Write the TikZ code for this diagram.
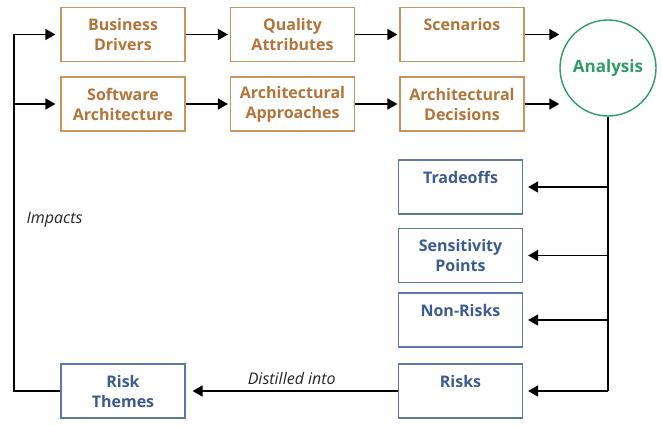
\documentclass[tikz,border=0pt]{standalone}
\usepackage{fontspec}
\setmainfont{Open Sans}
\usetikzlibrary{arrows.meta}
\definecolor{brtext}{HTML}{B3743A}
\definecolor{brline}{HTML}{C8935E}
\definecolor{bltext}{HTML}{3C5B8E}
\definecolor{blline}{HTML}{5B79A8}
\definecolor{grn}{HTML}{2F9B66}
\begin{document}
\begin{tikzpicture}[x=1pt,y=-1pt,
  box/.style={draw, line width=1.2pt, minimum width=124pt, minimum height=54pt,
    inner sep=0pt, align=center, font=\fontsize{16}{20}\selectfont\bfseries},
  brbox/.style={box, draw=brline, text=brtext},
  blbox/.style={box, draw=blline, text=bltext},
  arr/.style={line width=1.6pt, -{Triangle[length=10pt,width=11pt]}},
  lbl/.style={font=\fontsize{16}{18}\selectfont\itshape, text=black!85}
]
\useasboundingbox (0,0) rectangle (662,426);
% top row
\node[brbox] (bd) at (123,34.5) {Business\\Drivers};
\node[brbox] (qa) at (292.5,34.5) {Quality\\Attributes};
\node[brbox] (sc) at (462,34.5) {Scenarios\\\mbox{}};
% second row
\node[brbox] (sa) at (123,104) {Software\\Architecture};
\node[brbox] (aa) at (292.5,104) {Architectural\\Approaches};
\node[brbox] (ad) at (462,104) {Architectural\\Decisions};
% analysis
\node[draw=grn, text=grn, circle, line width=1.4pt, minimum size=96pt, inner sep=0pt,
  font=\fontsize{17}{20}\selectfont\bfseries] (an) at (608,68) {Analysis};
% outputs
\node[blbox] (to) at (460.5,187) {Tradeoffs\\\mbox{}};
\node[blbox] (sp) at (460.5,255.5) {Sensitivity\\Points};
\node[blbox] (nr) at (460.5,320) {Non-Risks\\\mbox{}};
\node[blbox] (rk) at (460.5,391) {Risks\\\mbox{}};
\node[blbox] (rt) at (123,391) {Risk\\Themes};
\coordinate (fb) at (14,391);
% arrows between top boxes
\draw[arr, shorten >=2pt] (bd) -- (qa);
\draw[arr, shorten >=2pt] (qa) -- (sc);
\draw[arr] (sc.east) -- (sc.east -| an.west);
\draw[arr, shorten >=2pt] (sa) -- (aa);
\draw[arr, shorten >=2pt] (aa) -- (ad);
\draw[arr] (ad.east) -- (ad.east -| an.west);
% analysis trunk
\draw[line width=1.6pt] (an.south) -- (an.south |- rk.east);
\draw[arr, shorten >=5pt] (an.south |- to.east) -- (to.east);
\draw[arr, shorten >=5pt] (an.south |- sp.east) -- (sp.east);
\draw[arr, shorten >=5pt] (an.south |- nr.east) -- (nr.east);
\draw[arr, shorten >=5pt] (an.south |- rk.east) -- (rk.east);
% distilled
\draw[arr, shorten >=7pt] (rk.west) -- node[lbl, above=2pt] (dl) {Distilled into} (rt.east);
% feedback
\draw[arr, shorten >=5pt] (rt.west) -- (fb) -- (fb |- bd.west) -- (bd.west);
\draw[arr, shorten >=5pt] (fb |- sa.west) -- (sa.west);
\node[lbl, anchor=west] (im) at (23,220) {Impacts};
\end{tikzpicture}
\end{document}
